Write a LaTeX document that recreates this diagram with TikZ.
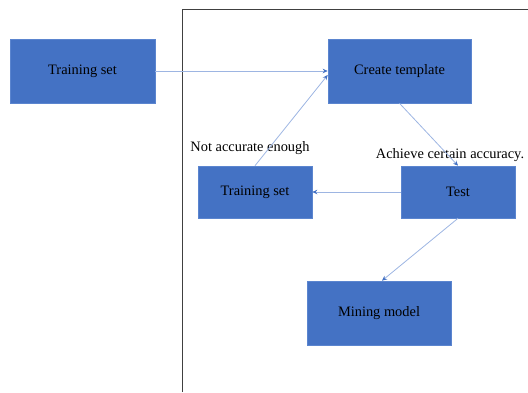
\documentclass[tikz,border=0pt]{standalone}
\usepackage{fontspec}
\setmainfont{Liberation Serif}
\usetikzlibrary{arrows.meta,calc}
\definecolor{boxblue}{HTML}{4472C4}
\definecolor{boxedge}{HTML}{5B85CF}
\definecolor{linkblue}{HTML}{9DB5E2}
\definecolor{tipblue}{HTML}{4472C4}
\tikzset{
  box/.style={rectangle, fill=boxblue, draw=boxedge, line width=0.6pt, inner sep=0pt, font=\fontsize{14.4}{17}\selectfont, text=black},
  link/.style={draw=linkblue, line width=0.8pt, -{Stealth[length=5pt,width=4.5pt,color=tipblue]}},
  lab/.style={font=\fontsize{14.4}{17}\selectfont, inner sep=0pt, text=black},
  frame/.style={draw=black!75, line width=0.9pt}
}
\begin{document}
\begin{tikzpicture}[x=1pt,y=-1pt]
\useasboundingbox (0,0) rectangle (528,392);
\coordinate (fbl) at (182,392);
\coordinate (ftl) at (182,9);
\coordinate (ftr) at (528,9);
\draw[frame] (fbl) -- (ftl) -- (ftr);
\node[box, minimum width=145pt, minimum height=64pt] (tsL) at (82.5,71) {Training set};
\node[box, minimum width=143pt, minimum height=64pt] (ct) at (399.5,71) {Create template};
\node[box, minimum width=114pt, minimum height=52pt] (ts2) at (255,192) {Training set};
\node[box, minimum width=114pt, minimum height=52pt] (test) at (458,192) {Test};
\node[box, minimum width=144pt, minimum height=64pt] (mm) at (379,313) {Mining model};
\node[lab] (l1) at (250,148) {Not accurate enough};
\node[lab] (l2) at (450,155) {Achieve certain accuracy.};
\draw[link] (tsL.east) -- (ct.west);
\draw[link] (ts2.north) -- ($(ct.west)+(0,4)$);
\draw[link] (ct.south) -- (test.north);
\draw[link] (test.west) -- (ts2.east);
\draw[link] (test.south) -- ($(mm.north)+(3,0)$);
\end{tikzpicture}
\end{document}
